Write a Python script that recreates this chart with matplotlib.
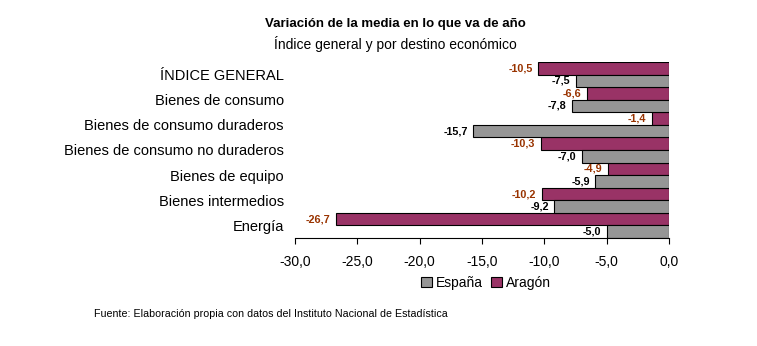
# Variación de la media en lo que va de año - barras horizontales

import numpy as np
from matplotlib import pyplot as plt

plt.rcParams['font.family'] = ['Liberation Sans', 'DejaVu Sans']

# datos
categorias = ['ÍNDICE GENERAL', 'Bienes de consumo', 'Bienes de consumo duraderos',
              'Bienes de consumo no duraderos', 'Bienes de equipo',
              'Bienes intermedios', 'Energía']
aragon = [-10.5, -6.6, -1.4, -10.3, -4.9, -10.2, -26.7]
espana = [-7.5, -7.8, -15.7, -7.0, -5.9, -9.2, -5.0]
xticks = [-30, -25, -20, -15, -10, -5, 0]

fmt = lambda v : f'{v:.1f}'.replace('.', ',')

fig = plt.figure(figsize=(7.57, 3.46), dpi=100)
ax = fig.add_axes([0.3897, 0.312, 0.4941, 0.509])

y = np.arange(len(categorias))
h = 0.5
b_ar = ax.barh(y - h/2, aragon, height=h, color='#993366', edgecolor='black', linewidth=0.8, label='Aragón')
b_es = ax.barh(y + h/2, espana, height=h, color='#969696', edgecolor='black', linewidth=0.8, label='España')

# etiquetas de valores
for yy, v in zip(y - h/2, aragon):
    ax.annotate(fmt(v), (v, yy), xytext=(-4, 0), textcoords='offset points',
                ha='right', va='center', fontsize=7.8, fontweight='bold', color='#993300')
for yy, v in zip(y + h/2, espana):
    ax.annotate(fmt(v), (v, yy), xytext=(-4, 0), textcoords='offset points',
                ha='right', va='center', fontsize=7.8, fontweight='bold', color='black')

ax.set_xlim(-30, 0)
ax.set_ylim(len(categorias) - 0.5, -0.5)
ax.set_xticks(xticks)
ax.set_xticklabels([fmt(t) for t in xticks], fontsize=10)
ax.set_yticks(y)
ax.set_yticklabels(categorias, fontsize=10.5)
ax.tick_params(axis='y', length=0, pad=8)
ax.tick_params(axis='x', length=4, direction='out', pad=8)
for s in ['top', 'right', 'left']:
    ax.spines[s].set_visible(False)

# títulos
fig.text(0.522, 0.93, 'Variación de la media en lo que va de año', ha='center', va='center',
         fontsize=9.5, fontweight='bold')
fig.text(0.522, 0.873, 'Índice general y por destino económico', ha='center', va='center',
         fontsize=10)

# leyenda
fig.legend(handles=[b_es, b_ar], loc='center', bbox_to_anchor=(0.642, 0.183), ncol=2,
           frameon=False, fontsize=10, handlelength=0.8, handleheight=0.8,
           handletextpad=0.3, columnspacing=0.6)

fig.text(0.124, 0.0925, 'Fuente: Elaboración propia con datos del Instituto Nacional de Estadística',
         ha='left', va='center', fontsize=7.7)

plt.savefig('out.png', dpi=100)
